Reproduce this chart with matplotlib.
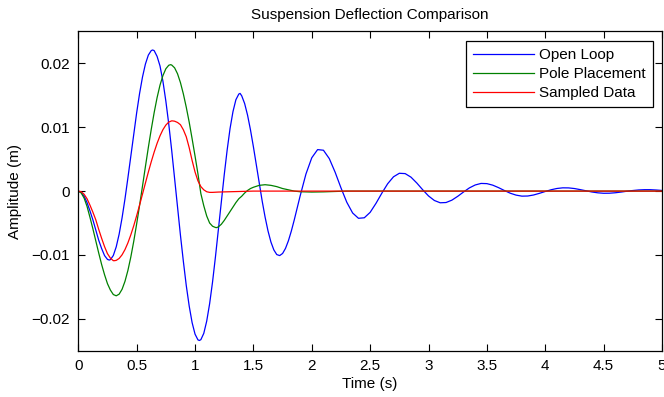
import matplotlib
matplotlib.use("Agg")
import matplotlib.pyplot as plt
from matplotlib.ticker import FuncFormatter

# ---- data ----
t_open = [0.0, 0.025, 0.05, 0.075, 0.10, 0.125, 0.15, 0.175, 0.20, 0.225, 0.25, 0.265,
          0.275, 0.30, 0.325, 0.35, 0.375, 0.40, 0.425, 0.45, 0.475, 0.50, 0.525, 0.55,
          0.575, 0.60, 0.625, 0.637, 0.65, 0.675, 0.70, 0.725, 0.75, 0.775, 0.80, 0.825,
          0.85, 0.875, 0.90, 0.925, 0.95, 0.975, 1.00, 1.025, 1.037, 1.05, 1.075, 1.10,
          1.125, 1.15, 1.175, 1.20, 1.225, 1.25, 1.275, 1.30, 1.325, 1.35, 1.375, 1.386,
          1.40, 1.425, 1.45, 1.475, 1.50, 1.525, 1.55, 1.575, 1.60, 1.625, 1.65, 1.675,
          1.70, 1.725, 1.75, 1.775, 1.80, 1.825, 1.85, 1.875, 1.90, 1.95, 2.00, 2.05,
          2.10, 2.15, 2.20, 2.25, 2.30, 2.35, 2.40, 2.45, 2.50, 2.55, 2.60, 2.65, 2.70,
          2.75, 2.80, 2.85, 2.90, 2.95, 3.00, 3.05, 3.10, 3.15, 3.20, 3.25, 3.30, 3.35,
          3.40, 3.45, 3.50, 3.55, 3.60, 3.65, 3.70, 3.75, 3.80, 3.85, 3.90, 3.95, 4.00,
          4.05, 4.10, 4.15, 4.20, 4.25, 4.30, 4.35, 4.40, 4.45, 4.50, 4.55, 4.60, 4.65,
          4.70, 4.75, 4.80, 4.85, 4.90, 4.95, 5.00]
open_loop = [0.0, -0.0002, -0.0008, -0.0018, -0.0031, -0.0045, -0.0061, -0.0077, -0.0090,
             -0.0101, -0.0107, -0.0108, -0.01074, -0.01009, -0.00873, -0.00674, -0.00419,
             -0.00122, 0.00207, 0.00551, 0.00896, 0.01226, 0.01529, 0.01787, 0.01990,
             0.02130, 0.02201, 0.0221, 0.0220, 0.0211, 0.0196, 0.0172, 0.0141, 0.0105,
             0.0064, 0.0020, -0.0025, -0.0069, -0.0110, -0.0148, -0.0180, -0.0206, -0.0224,
             -0.0233, -0.0234, -0.02327, -0.02228, -0.02037, -0.01764, -0.01424, -0.01028,
             -0.00605, -0.00170, 0.00252, 0.00641, 0.00980, 0.01245, 0.01431, 0.01520,
             0.0153, 0.01492, 0.01371, 0.01189, 0.00958, 0.00694, 0.00411, 0.00123,
             -0.00154, -0.00406, -0.00623, -0.00797, -0.00921, -0.00994, -0.01010,
             -0.00977, -0.00897, -0.00777, -0.00625, -0.00451, -0.00268, -0.00078,
             0.00267, 0.00522, 0.00650, 0.00640, 0.00509, 0.00296, 0.00051, -0.00175,
             -0.00343, -0.00426, -0.00418, -0.00333, -0.00192, -0.00033, 0.00115, 0.00224,
             0.00279, 0.00274, 0.00218, 0.00126, 0.00021, -0.00076, -0.00147, -0.00183,
             -0.00179, -0.00142, -0.00082, -0.00014, 0.00050, 0.00096, 0.00120, 0.00117,
             0.00093, 0.00054, 0.00009, -0.00033, -0.00063, -0.00079, -0.00077, -0.00061,
             -0.00035, -0.00006, 0.00021, 0.00041, 0.00051, 0.00050, 0.00040, 0.00023,
             0.00004, -0.00014, -0.00027, -0.00034, -0.00033, -0.00026, -0.00015, -0.00002,
             0.00009, 0.00018, 0.00022, 0.00022, 0.00017, 0.00010]

t_pole = [0.0, 0.025, 0.05, 0.075, 0.10, 0.125, 0.15, 0.175, 0.20, 0.225, 0.25, 0.275,
          0.30, 0.325, 0.35, 0.375, 0.40, 0.425, 0.45, 0.475, 0.50, 0.525, 0.55, 0.575,
          0.60, 0.625, 0.65, 0.675, 0.70, 0.725, 0.75, 0.775, 0.79, 0.80, 0.825, 0.85,
          0.875, 0.90, 0.925, 0.95, 0.975, 1.00, 1.025, 1.05, 1.075, 1.10, 1.125, 1.15,
          1.175, 1.185, 1.20, 1.225, 1.25, 1.275, 1.30, 1.325, 1.35, 1.375, 1.40, 1.425,
          1.45, 1.475, 1.50, 1.55, 1.60, 1.65, 1.70, 1.75, 1.80, 1.85, 1.90, 2.00, 2.10,
          2.20, 2.30, 5.00]
pole_placement = [0.0, -0.0003, -0.0011, -0.0024, -0.0041, -0.0059, -0.0078, -0.0097,
                  -0.0115, -0.0131, -0.0145, -0.0155, -0.0162, -0.0164, -0.01614, -0.01538,
                  -0.01413, -0.01243, -0.01032, -0.00787, -0.00514, -0.00224, 0.00078,
                  0.00383, 0.00683, 0.00967, 0.01230, 0.01464, 0.01660, 0.01809, 0.01916,
                  0.01971, 0.0198, 0.01975, 0.01931, 0.01838, 0.01700, 0.01522, 0.01313,
                  0.01080, 0.0082, 0.0055, 0.0027, -0.0004, -0.0023, -0.0039, -0.0050,
                  -0.0055, -0.0057, -0.00572, -0.0056, -0.0052, -0.0046, -0.0039, -0.0032,
                  -0.0025, -0.0018, -0.0012, -0.0008, -0.0003, 0.0001, 0.0004, 0.0006,
                  0.0009, 0.0010, 0.0009, 0.0007, 0.0004, 0.0002, 0.0, -0.0001, -0.00015,
                  -0.00012, -0.00006, 0.0, 0.0]

t_sampled = [0.0, 0.025, 0.05, 0.075, 0.10, 0.125, 0.15, 0.175, 0.20, 0.225, 0.25, 0.275,
             0.30, 0.31, 0.325, 0.35, 0.375, 0.40, 0.425, 0.45, 0.475, 0.50, 0.525, 0.55,
             0.575, 0.60, 0.625, 0.65, 0.675, 0.70, 0.725, 0.75, 0.775, 0.80, 0.805, 0.825,
             0.85, 0.875, 0.90, 0.925, 0.95, 0.975, 1.00, 1.025, 1.05, 1.075, 1.10, 1.125,
             1.15, 1.20, 1.30, 1.40, 1.50, 5.00]
sampled_data = [0.0, -0.0001, -0.0005, -0.0012, -0.0022, -0.0033, -0.0045, -0.0060,
                -0.0074, -0.0087, -0.0098, -0.0105, -0.0109, -0.0109, -0.01085, -0.01055,
                -0.00998, -0.00916, -0.00811, -0.00685, -0.00543, -0.00386, -0.00219,
                -0.00047, 0.00126, 0.00297, 0.00460, 0.00611, 0.00748, 0.00866, 0.00962,
                0.01034, 0.01081, 0.01100, 0.0110, 0.01095, 0.01075, 0.0104, 0.0096, 0.0085,
                0.0068, 0.0048, 0.0030, 0.0016, 0.0007, 0.0002, -0.0001, -0.0002, -0.0002,
                -0.00015, -0.0001, -0.00005, 0.0, 0.0]

series_labels = ["Open Loop", "Pole Placement", "Sampled Data"]
x_ticks = [0, 0.5, 1, 1.5, 2, 2.5, 3, 3.5, 4, 4.5, 5]
y_ticks = [-0.02, -0.01, 0, 0.01, 0.02]

plt.rcParams['font.family'] = ['Liberation Sans', 'DejaVu Sans']
plt.rcParams['font.size'] = 11

fig = plt.figure(figsize=(6.64, 3.97), dpi=100)
ax = fig.add_axes([0.1179, 0.1166, 0.8791, 0.8041])

ax.plot(t_open, open_loop, color=(0, 0, 1), lw=0.9, label=series_labels[0])
ax.plot(t_pole, pole_placement, color=(0, 0.5, 0), lw=0.9, label=series_labels[1])
ax.plot(t_sampled, sampled_data, color=(1, 0, 0), lw=0.9, label=series_labels[2])

ax.set_xlim(0, 5)
ax.set_ylim(-0.025, 0.025)
ax.set_xticks(x_ticks)
ax.set_yticks(y_ticks)
ax.xaxis.set_major_formatter(FuncFormatter(lambda v, p: "%g" % v))
ax.yaxis.set_major_formatter(FuncFormatter(lambda v, p: ("%g" % v).replace("-", "\u2212")))
ax.tick_params(direction='in', top=True, right=True, length=5, width=0.8,
               labelsize=11, pad=6)
for s in ax.spines.values():
    s.set_linewidth(0.9)

ax.set_title("Suspension Deflection Comparison", fontsize=11, pad=9)
ax.set_xlabel("Time (s)", fontsize=11, labelpad=3)
ax.set_ylabel("Amplitude (m)", fontsize=11, labelpad=7)

leg = ax.legend(loc='upper right', bbox_to_anchor=(0.984, 0.969), borderaxespad=0,
                fancybox=False, edgecolor='black', framealpha=1, fontsize=11,
                handlelength=4.0, handletextpad=0.35, labelspacing=0.32,
                borderpad=0.45)
leg.get_frame().set_linewidth(0.9)

fig.savefig("out.png", dpi=100)
